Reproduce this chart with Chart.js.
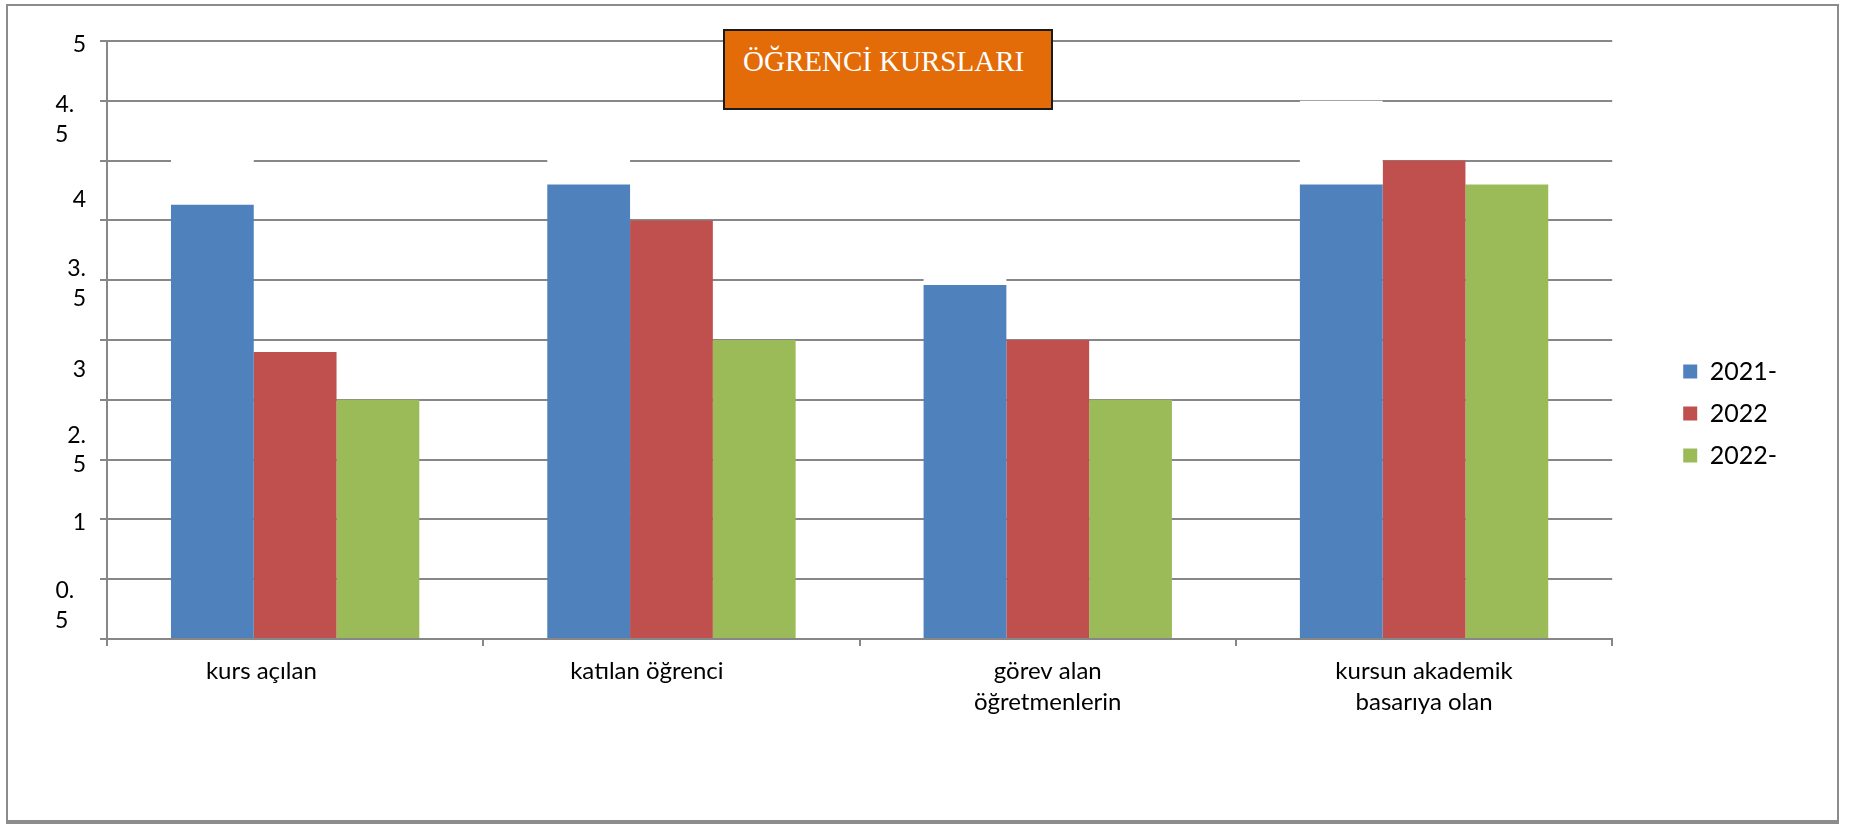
<!DOCTYPE html>
<html>
<head>
<meta charset="utf-8">
<title>ÖĞRENCİ KURSLARI</title>
<script src="https://cdn.jsdelivr.net/npm/chart.js@4.4.1/dist/chart.umd.min.js"></script>
<style>
  html, body { margin: 0; padding: 0; background: #ffffff; }
  #page { position: relative; width: 1851px; height: 825px; overflow: hidden; }
  #frame {
    position: absolute; left: 6px; top: 4px; width: 1829px; height: 814px;
    border: 2px solid #8c8c8c; border-bottom-width: 4px;
  }
  #chart { position: absolute; left: 0; top: 0; }
  #title {
    position: absolute; left: 723px; top: 29px; width: 326px; height: 77px;
    background: #E36C09; border: 2px solid #1b1b1b; box-sizing: content-box;
    color: #ffffff; font-family: "Liberation Serif", serif; font-size: 29px;
    line-height: 32px; padding: 0; white-space: nowrap;
  }
  #title span { position: absolute; left: 18px; top: 14px; }
</style>
</head>
<body>
<div id="page">
  <div id="frame"></div>
  <canvas id="chart" width="1851" height="825"></canvas>
  <div id="title"><span>ÖĞRENCİ KURSLARI</span></div>
</div>
<script>
// Categories (multi-line labels under the x axis)
const categories = [
  ["kurs açılan"],
  ["katılan öğrenci"],
  ["görev alan", "öğretmenlerin"],
  ["kursun akademik", "basarıya olan"]
];

// Trailing blank space kept after each category label (in space characters)
const labelTrail = [11, 8, 0, 0];

// Series names shown in the legend
const seriesNames = ["2021-", "2022", "2022-"];

// Series values
const values2021 = [3.63, 3.80, 2.96, 3.80];
const values2022 = [2.40, 3.50, 2.50, 4.00];
const values2022b = [2.00, 2.50, 2.00, 3.80];

// White label backdrops sitting above the first series (top level on the value axis)
const backdropTop = [4.25, 4.25, 3.25, 4.50];

// Value-axis labels, the levels they are printed at, and their trailing blanks per line
const yTickLabels = ["5", ["4.", "5"], "4", ["3.", "5"], "3", ["2.", "5"], "1", ["0.", "5"]];
const yTickLevels = [4.97, 4.34, 3.67, 2.97, 2.25, 1.58, 0.97, 0.28];
const yTickTrail = [[0], [2, 3], [0], [0, 0], [0], [0, 0], [0], [2, 3]];

const GRID = "#878787";
const FONT = "Lato, 'Liberation Sans', sans-serif";

const backdropData = backdropTop.map((t, i) => Math.max(t - values2021[i], 0));
const xLabels = categories.map((lines, i) =>
  lines.map((line, j) => j === 0 ? line + " ".repeat(labelTrail[i]) : line)
);
const yLabels = yTickLabels.map((lab, i) =>
  [].concat(lab).map((line, j) => line + " ".repeat(yTickTrail[i][j]))
);

new Chart(document.getElementById("chart"), {
  type: "bar",
  data: {
    labels: xLabels,
    datasets: [
      { label: seriesNames[0], data: values2021, backgroundColor: "#4F81BD", borderWidth: 0, stack: "s1" },
      { label: "", data: backdropData, backgroundColor: "#FFFFFF", borderWidth: 0, stack: "s1" },
      { label: seriesNames[1], data: values2022, backgroundColor: "#C0504D", borderWidth: 0, stack: "s2" },
      { label: seriesNames[2], data: values2022b, backgroundColor: "#9BBB59", borderWidth: 0, stack: "s3" }
    ]
  },
  options: {
    responsive: false,
    animation: false,
    events: [],
    layout: { padding: { left: 0, top: 41, right: 64, bottom: 39 } },
    datasets: { bar: { barPercentage: 1.0, categoryPercentage: 0.66 } },
    plugins: {
      title: { display: false },
      tooltip: { enabled: false },
      legend: {
        position: "right",
        labels: {
          font: { family: FONT, size: 25 },
          color: "#000000",
          boxWidth: 14,
          boxHeight: 14,
          padding: 17,
          filter: (item) => item.text !== ""
        }
      }
    },
    scales: {
      x: {
        stacked: true,
        grid: { display: true, drawOnChartArea: false, drawTicks: true, tickLength: 7, color: GRID, lineWidth: 2 },
        border: { display: true, color: GRID, width: 2 },
        ticks: {
          font: { family: FONT, size: 24, lineHeight: 1.28 },
          color: "#000000",
          padding: 10,
          maxRotation: 0,
          autoSkip: false
        },
        afterFit: (axis) => { axis.height = 147; }
      },
      y: {
        stacked: true,
        min: 0,
        max: 5,
        weight: 0,
        ticks: { display: false, stepSize: 0.5 },
        grid: { display: true, drawTicks: true, tickLength: 7, color: GRID, lineWidth: 2 },
        border: { display: true, color: GRID, width: 2 }
      },
      yText: {
        type: "linear",
        position: "left",
        weight: 1,
        min: 0,
        max: 5,
        grid: { display: false },
        border: { display: false },
        afterBuildTicks: (axis) => { axis.ticks = yTickLevels.map(v => ({ value: v })); },
        ticks: {
          font: { family: FONT, size: 23, lineHeight: 1.3 },
          color: "#000000",
          padding: 6,
          callback: (value, index) => yLabels[index]
        },
        afterFit: (axis) => { axis.width = 100; }
      },
      yPad: {
        type: "linear",
        position: "right",
        grid: { display: false },
        border: { display: false },
        ticks: { display: false },
        afterFit: (axis) => { axis.width = 54; }
      }
    }
  }
});
</script>
</body>
</html>
